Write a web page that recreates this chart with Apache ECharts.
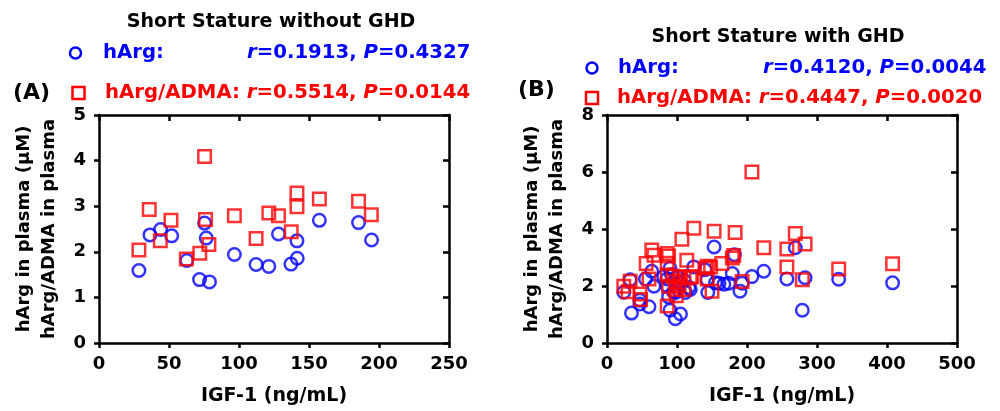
<!DOCTYPE html>
<html>
<head>
<meta charset="utf-8">
<script src="https://cdn.jsdelivr.net/npm/echarts@6/dist/echarts.min.js"></script>
<style>
html,body{margin:0;padding:0;background:#fff;}
#c{width:1000px;height:411px;}
</style>
</head>
<body>
<div id="c"></div>
<script>
// Panel A: Short Stature without GHD  [IGF-1, value]
const hArgA = [[28.5,1.59],[36.4,2.37],[44,2.49],[51.9,2.35],[62.7,1.81],[71.8,1.39],[78.9,1.34],[75.4,2.63],[76.6,2.30],[96.7,1.94],[112.2,1.72],[121.3,1.68],[128.2,2.39],[137.1,1.73],[141.6,1.86],[141.4,2.24],[157.4,2.69],[185.4,2.64],[194.7,2.26]];
const ratioA = [[28.5,2.04],[35.9,2.93],[43.8,2.24],[51.4,2.69],[62.4,1.84],[72,1.97],[75.4,4.09],[76.1,2.71],[78.5,2.16],[96.7,2.79],[112.2,2.29],[121.3,2.85],[128.2,2.79],[137.3,2.44],[141.4,2.99],[141.4,3.29],[157.4,3.16],[185.4,3.11],[194.5,2.81]];
// Panel B: Short Stature with GHD
const hArgB = [[24,1.78],[33,2.22],[35,1.05],[47,1.37],[47,1.5],[55,2.25],[60,1.27],[64,2.52],[67,1.99],[81,2.33],[86,1.99],[86,2.25],[88,1.62],[90,2.62],[90,1.15],[92,2.4],[95,1.8],[97.6,0.85],[98,1.77],[100,2.33],[103,2.1],[105,1.02],[110,2.2],[112,1.77],[117,1.95],[119,1.88],[124,2.67],[140,2.57],[143,2.22],[144,1.77],[153,3.37],[155,2.11],[160,2.1],[167,2.06],[174,2.1],[179,2.44],[182,3.1],[190,1.82],[193,2.1],[207,2.33],[224,2.52],[257,2.25],[269,3.34],[279,1.15],[283,2.29],[331,2.24],[408,2.11]];
const ratioB = [[24,1.99],[33,2.17],[30,1.8],[47,1.72],[48,1.53],[56,2.79],[60,2.25],[64,3.26],[67,3.08],[86,2.39],[86,1.30],[86,3.14],[88,3.05],[86,2.8],[88,1.99],[94,2.34],[98,1.88],[98,2.16],[99,1.66],[103,2.0],[105,2.33],[107,3.64],[110,1.88],[110,2.29],[114,2.9],[119,2.29],[121,2.33],[124,4.03],[140,2.62],[143,2.69],[143,2.25],[148,2.67],[150,1.82],[153,3.92],[164,2.79],[179,2.98],[181,3.07],[183,3.88],[193,2.16],[207,6.0],[224,3.34],[257,3.3],[257,2.67],[269,3.84],[279,2.22],[283,3.47],[331,2.6],[408,2.78]];

const xMaxA = 250, xStepA = 50, yMaxA = 5, yStepA = 1;
const xMaxB = 500, xStepB = 100, yMaxB = 8, yStepB = 2;
const titles = ['Short Stature without GHD', 'Short Stature with GHD'];
const statsA = {hr: ['0.1913','0.4327'], r: ['0.5514', '0.0144']};
const statsB = {hr: ['0.4120','0.0044'], r: ['0.4447','0.0020']};
const yName = 'hArg in plasma (μM)\nhArg/ADMA in plasma';
const xName = 'IGF-1 (ng/mL)';

const FONT = 'DejaVu Sans';
const BLUE = '#0000ff', RED = '#ff0000';
const LEG = 19.7;
const chart = echarts.init(document.getElementById('c'), null, {renderer: 'canvas'});

function axisPair(gridIndex, max, step, isX) {
  const common = {
    gridIndex, min: 0, max, interval: step, type: 'value',
    splitLine: {show: false},
    axisLine: {show: true, onZero: false, lineStyle: {color: '#000', width: 2.5}},
  };
  const main = Object.assign({}, common, {
    position: isX ? 'bottom' : 'left',
    axisTick: {show: true, inside: false, length: 5, lineStyle: {color: '#000', width: 2.5}},
    axisLabel: {show: true, margin: isX ? 12 : 13, color: '#000', fontFamily: FONT, fontWeight: 'bold', fontSize: 18},
    name: isX ? xName : yName,
    nameLocation: 'middle',
    nameGap: isX ? 44 : 37,
    nameTextStyle: isX ? {color: '#000', fontFamily: FONT, fontWeight: 'bold', fontSize: 19}
                       : {color: '#000', fontFamily: FONT, fontWeight: 'bold', fontSize: 18, lineHeight: 25},
  });
  const sec = Object.assign({}, common, {
    position: isX ? 'top' : 'right',
    axisTick: {show: true, inside: true, length: 6, lineStyle: {color: '#000', width: 2.5}},
    axisLabel: {show: false},
  });
  return [main, sec];
}

const xA = axisPair(0, xMaxA, xStepA, true);
const xB = axisPair(1, xMaxB, xStepB, true);
const yA = axisPair(0, yMaxA, yStepA, false);
const yB = axisPair(1, yMaxB, yStepB, false);

function scat(name, data, xi, yi, sym, color) {
  return {
    name, type: 'scatter', xAxisIndex: xi, yAxisIndex: yi, data,
    symbol: sym, symbolSize: 12.5,
    itemStyle: {color: 'rgba(0,0,0,0)', borderColor: color, borderWidth: 2.5},
    emphasis: {disabled: true}, animation: false,
  };
}

function txt(x, y, text, color, opts) {
  return {type: 'text', x, y, style: Object.assign({text, fill: color, fontFamily: FONT, fontWeight: 'bold', fontSize: LEG, verticalAlign: 'middle'}, opts || {})};
}
function statText(x, y, vals, color, prefix) {
  return {type: 'text', x, y, style: {
    text: (prefix ? '{n|' + prefix + '}' : '') + '{i|r}{n|=' + vals[0] + ', }{i|P}{n|=' + vals[1] + '}',
    fill: color,
    rich: {
      n: {fontFamily: FONT, fontWeight: 'bold', fontSize: LEG, fill: color},
      i: {fontFamily: FONT, fontWeight: 'bold', fontStyle: 'italic', fontSize: LEG, fill: color}
    },
    verticalAlign: 'middle'
  }};
}

const graphic = [
  txt(271, 22, titles[0], '#000', {align: 'center', fontSize: 19}),
  txt(778, 37, titles[1], '#000', {align: 'center', fontSize: 19}),
  txt(13, 93, '(A)', '#000', {fontSize: 22}),
  txt(518, 90, '(B)', '#000', {fontSize: 22}),
  // Panel A legend
  {type: 'circle', shape: {cx: 75.5, cy: 53, r: 5.5}, style: {fill: 'none', stroke: BLUE, lineWidth: 2.5}},
  txt(103, 53, 'hArg:', BLUE),
  statText(247, 53, statsA.hr, BLUE),
  {type: 'rect', shape: {x: 72.5, y: 87, width: 12, height: 12}, style: {fill: 'none', stroke: RED, lineWidth: 2.5}},
  statText(105, 93, statsA.r, RED, 'hArg/ADMA: '),
  // Panel B legend
  {type: 'circle', shape: {cx: 592, cy: 68, r: 5.5}, style: {fill: 'none', stroke: BLUE, lineWidth: 2.5}},
  txt(618, 68, 'hArg:', BLUE),
  statText(763, 68, statsB.hr, BLUE),
  {type: 'rect', shape: {x: 586, y: 92, width: 12, height: 12}, style: {fill: 'none', stroke: RED, lineWidth: 2.5}},
  statText(617, 98, statsB.r, RED, 'hArg/ADMA: '),
];

chart.setOption({
  animation: false,
  backgroundColor: '#fff',
  grid: [
    {left: 99, top: 115, width: 350, height: 233, containLabel: false},
    {left: 607, top: 115, width: 350, height: 233, containLabel: false}
  ],
  xAxis: [xA[0], xA[1], xB[0], xB[1]],
  yAxis: [yA[0], yA[1], yB[0], yB[1]],
  series: [
    scat('hArg A', hArgA, 0, 0, 'circle', BLUE),
    scat('ratio A', ratioA, 0, 0, 'rect', RED),
    scat('hArg B', hArgB, 2, 2, 'circle', BLUE),
    scat('ratio B', ratioB, 2, 2, 'rect', RED),
  ],
  graphic
});
</script>
</body>
</html>
